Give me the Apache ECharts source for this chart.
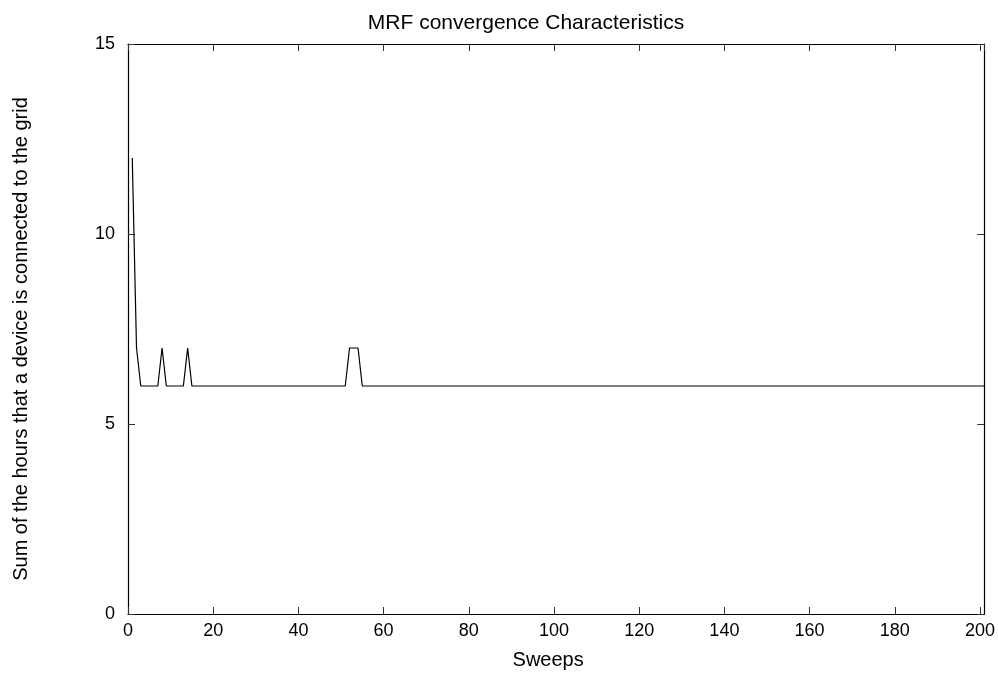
<!DOCTYPE html>
<html><head><meta charset="utf-8">
<script src="https://cdn.jsdelivr.net/npm/echarts@6/dist/echarts.min.js"></script>
<style>html,body{margin:0;padding:0;background:#fff}#c{width:998px;height:675px}</style>
</head><body><div id="c"></div>
<script>
const title = 'MRF convergence Characteristics';
const xName = 'Sweeps';
const yName = 'Sum of the hours that a device is connected to the grid';
const xTicks = [0,20,40,60,80,100,120,140,160,180,200];
const yTicks = [0,5,10,15];
// sum of hours per sweep, sweeps 1..201
const values = [
12,7,6,6,6,6,6,7,6,6,6,6,6,7,6,6,6,6,6,6,
6,6,6,6,6,6,6,6,6,6,6,6,6,6,6,6,6,6,6,6,
6,6,6,6,6,6,6,6,6,6,6,7,7,7,6,6,6,6,6,6,
6,6,6,6,6,6,6,6,6,6,6,6,6,6,6,6,6,6,6,6,
6,6,6,6,6,6,6,6,6,6,6,6,6,6,6,6,6,6,6,6,
6,6,6,6,6,6,6,6,6,6,6,6,6,6,6,6,6,6,6,6,
6,6,6,6,6,6,6,6,6,6,6,6,6,6,6,6,6,6,6,6,
6,6,6,6,6,6,6,6,6,6,6,6,6,6,6,6,6,6,6,6,
6,6,6,6,6,6,6,6,6,6,6,6,6,6,6,6,6,6,6,6,
6,6,6,6,6,6,6,6,6,6,6,6,6,6,6,6,6,6,6,6,
6
];
const sweeps = values.map((v,i)=>i+1);
const data = sweeps.map((s,i)=>[s, values[i]]);
const font = 'Liberation Sans, Arial, Helvetica, sans-serif';
const chart = echarts.init(document.getElementById('c'), null, {renderer:'canvas'});
const axLine = {show:true, onZero:false, lineStyle:{color:'#000', width:1.2}};
const tick = {show:true, inside:true, length:7, lineStyle:{color:'#333', width:1}};
chart.setOption({
  animation:false,
  backgroundColor:'#fff',
  title:{text:title, left:521, textAlign:'center', top:8, textStyle:{fontFamily:font, fontSize:21, fontWeight:'normal', color:'#000'}},
  grid:{left:128, right:13, top:44, bottom:60, containLabel:false},
  xAxis:[
    {type:'value', min:0, max:201, interval:20, position:'bottom',
     name:xName, nameLocation:'middle', nameGap:36,
     nameTextStyle:{fontFamily:font, fontSize:20, color:'#000', padding:[0,16,0,0]},
     axisLine:axLine, axisTick:tick, splitLine:{show:false},
     axisLabel:{fontFamily:font, fontSize:18, color:'#000', margin:8, showMaxLabel:false,
       formatter:v=>xTicks.includes(v)?String(v):''}},
    {type:'value', min:0, max:201, interval:20, position:'top',
     axisLine:axLine, axisTick:tick, splitLine:{show:false}, axisLabel:{show:false}}
  ],
  yAxis:[
    {type:'value', min:0, max:15, interval:5, position:'left',
     name:yName, nameLocation:'middle', nameGap:97,
     nameTextStyle:{fontFamily:font, fontSize:20, color:'#000', padding:[0,20,0,0]},
     axisLine:axLine, axisTick:tick, splitLine:{show:false},
     axisLabel:{fontFamily:font, fontSize:18, color:'#000', margin:13,
       formatter:v=>yTicks.includes(v)?String(v):''}},
    {type:'value', min:0, max:15, interval:5, position:'right',
     axisLine:axLine, axisTick:tick, splitLine:{show:false}, axisLabel:{show:false}}
  ],
  series:[{type:'line', data:data, showSymbol:false, symbol:'none',
    lineStyle:{color:'#000', width:1.2}, xAxisIndex:0, yAxisIndex:0}]
});
</script></body></html>
